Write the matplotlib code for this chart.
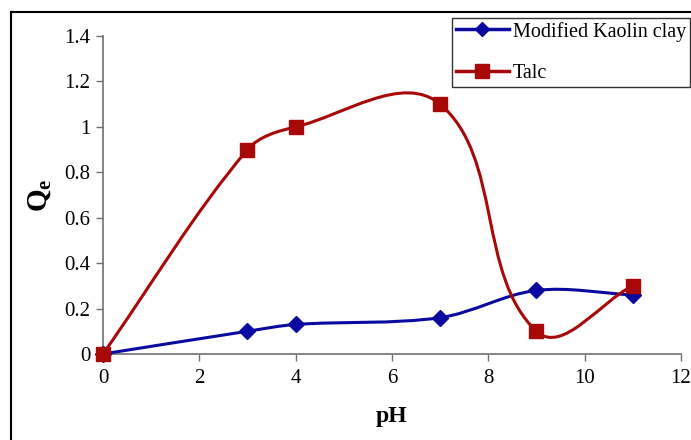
import matplotlib.pyplot as plt
import numpy as np
from matplotlib.path import Path
from matplotlib.patches import PathPatch
from matplotlib.lines import Line2D

# Data
ph = [0, 3, 4, 7, 9, 11]
kaolin = [0, 0.10, 0.13, 0.16, 0.28, 0.26]
talc = [0, 0.90, 1.00, 1.10, 0.10, 0.30]

x_ticks = [0, 2, 4, 6, 8, 10, 12]
y_ticks = [0, 0.2, 0.4, 0.6, 0.8, 1.0, 1.2, 1.4]
y_tick_labels = ['0', '0.2', '0.4', '0.6', '0.8', '1', '1.2', '1.4']

blue = '#0a0aa0'
red = '#a80808'

# approx pixels per data unit, so the smoothing works in screen space
sx, sy = 48.2, 227.0


# Excel-like smoothed line: cubic Bezier segments through the points
def smooth_path(xs, ys):
    p = np.column_stack([np.asarray(xs) * sx, np.asarray(ys) * sy]).astype(float)
    n = len(p)

    def unit(v):
        return v / np.hypot(*v)

    tang = []
    for i in range(n):
        a = p[i - 1] if i > 0 else p[i]
        b = p[i + 1] if i + 1 < n else p[i]
        tang.append(unit(b - a))

    verts = [p[0]]
    codes = [Path.MOVETO]
    for i in range(n - 1):
        d = np.hypot(*(p[i + 1] - p[i])) / 3.0
        c1 = p[i] + tang[i] * d
        c2 = p[i + 1] - tang[i + 1] * d
        verts += [c1, c2, p[i + 1]]
        codes += [Path.CURVE4] * 3
    verts = np.array(verts) / [sx, sy]
    return Path(verts, codes)


plt.rcParams['font.family'] = 'Liberation Serif'
plt.rcParams['mathtext.fontset'] = 'custom'
plt.rcParams['mathtext.rm'] = 'Liberation Serif'
plt.rcParams['mathtext.bf'] = 'Liberation Serif:bold'

fig = plt.figure(figsize=(6.91, 4.40), dpi=100)
ax = fig.add_axes([0.149, 0.1955, 0.8365, 0.7225])

for ys, col in [(kaolin, blue), (talc, red)]:
    patch = PathPatch(smooth_path(ph, ys), facecolor='none', edgecolor=col,
                      linewidth=2.2, zorder=3, capstyle='round', joinstyle='round')
    ax.add_patch(patch)

ax.plot(ph, kaolin, linestyle='none', marker='D', markersize=8,
        color=blue, zorder=4, clip_on=False)
ax.plot(ph, talc, linestyle='none', marker='s', markersize=10,
        color=red, zorder=5, clip_on=False)

ax.set_xlim(0, 12)
ax.set_ylim(0, 1.4)
ax.set_xticks(x_ticks)
ax.set_yticks(y_ticks)
ax.set_yticklabels(y_tick_labels)
ax.tick_params(direction='out', length=5, width=1, color='#707070',
               labelsize=15)
ax.tick_params(axis='x', pad=6)
ax.tick_params(axis='y', pad=4)
for side in ['top', 'right']:
    ax.spines[side].set_visible(False)
for side in ['left', 'bottom']:
    ax.spines[side].set_color('#707070')
    ax.spines[side].set_linewidth(1.2)

ax.set_xlabel('pH', fontsize=17, fontweight='bold', labelpad=13)
ax.set_ylabel(r'$\mathbf{Q_e}$', fontsize=21, labelpad=8)

handles = [
    Line2D([], [], color=blue, linewidth=2.5, marker='D', markersize=7),
    Line2D([], [], color=red, linewidth=2.5, marker='s', markersize=10),
]
leg = fig.legend(handles, ['Modified Kaolin clay', 'Talc'],
                 loc='upper right', bbox_to_anchor=(0.9985, 0.96),
                 fontsize=14.5, frameon=True, fancybox=False,
                 handlelength=2.6, handletextpad=0.2, labelspacing=1.1,
                 borderpad=0.2, borderaxespad=0)
leg.get_frame().set_edgecolor('black')
leg.get_frame().set_linewidth(1.0)

# Outer frame (left and top edges visible)
fig.add_artist(Line2D([11 / 691, 11 / 691], [0, 1 - 12 / 440],
                      transform=fig.transFigure, color='black', linewidth=1.5))
fig.add_artist(Line2D([11 / 691, 1], [1 - 12 / 440, 1 - 12 / 440],
                      transform=fig.transFigure, color='black', linewidth=1.5))

fig.savefig('out.png', dpi=100)
